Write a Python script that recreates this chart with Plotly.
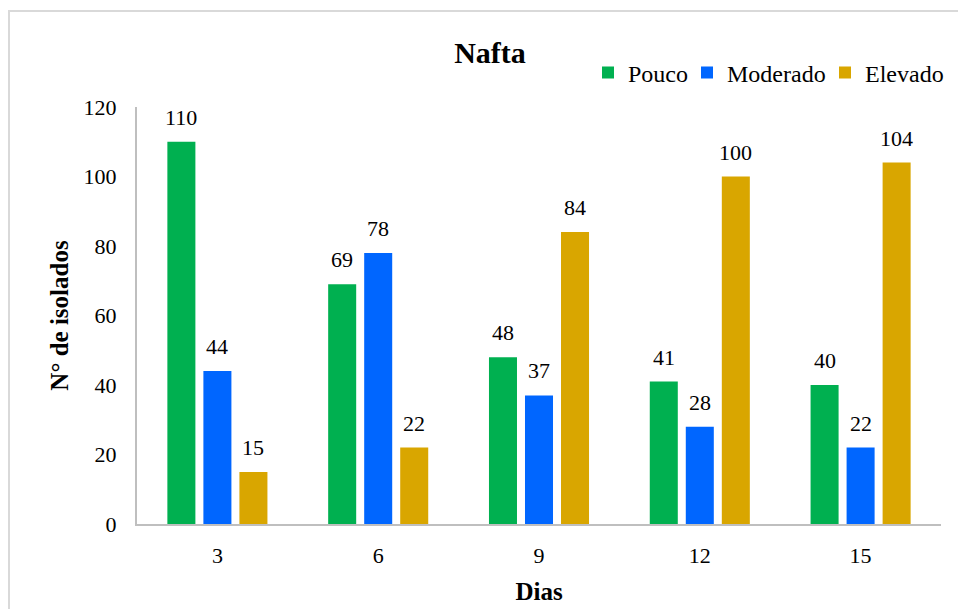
import plotly.graph_objects as go

# Days of exposure and isolate counts per degradation level
dias = ["3", "6", "9", "12", "15"]
pouco = [110, 69, 48, 41, 40]
moderado = [44, 78, 37, 28, 22]
elevado = [15, 22, 84, 100, 104]

series = [
    ("Pouco", pouco, "#00B050", 54),
    ("Moderado", moderado, "#0066FF", 93),
    ("Elevado", elevado, "#D9A600", 80),
]

FONT = "Liberation Serif"

fig = go.Figure()
for name, vals, color, lw in series:
    fig.add_trace(go.Bar(
        x=dias, y=vals, name=name,
        marker=dict(color=color, line=dict(width=0)),
        legendwidth=lw,
    ))

# Value labels above each bar, offset to each bar within its group
slot_px = 36
for i, (name, vals, color, lw) in enumerate(series):
    for j, v in enumerate(vals):
        fig.add_annotation(
            x=j, y=v, xref="x", yref="y",
            text=str(v), showarrow=False,
            xshift=(i - 1) * slot_px, yshift=10,
            yanchor="bottom",
            font=dict(family=FONT, size=22, color="#000000"),
        )

W, H = 958, 609
L, R, T, B = 137, 17, 107, 85
pw, ph = W - L - R, H - T - B

def px_x(p):
    return (p - L) / pw

def px_y(p):
    return (H - B - p) / ph

fig.update_layout(
    width=W, height=H,
    margin=dict(l=L, r=R, t=T, b=B, autoexpand=False),
    paper_bgcolor="white", plot_bgcolor="white",
    barmode="group", bargap=0.328, bargroupgap=0.222,
    font=dict(family=FONT, size=22, color="#000000"),
    title=dict(
        text="<b>Nafta</b>",
        font=dict(family=FONT, size=30, color="#000000"),
        x=px_x(490), xref="paper", xanchor="center",
        y=1 - 52 / H, yref="container", yanchor="middle",
    ),
    legend=dict(
        orientation="h",
        x=px_x(588), xanchor="left",
        y=px_y(73), yanchor="middle",
        font=dict(family=FONT, size=24, color="#000000"),
        itemwidth=30,
        bgcolor="rgba(0,0,0,0)",
    ),
    xaxis=dict(
        type="category", range=[-0.5, len(dias) - 0.5],
        showline=True, linecolor="#BFBFBF", linewidth=2,
        ticks="", showgrid=False, zeroline=False,
        tickfont=dict(family=FONT, size=22, color="#000000"),
        ticklabelstandoff=11, automargin=False,
        title=dict(text="<b>Dias</b>", font=dict(family=FONT, size=25), standoff=15),
    ),
    yaxis=dict(
        range=[0, 120], dtick=20,
        showline=True, linecolor="#BFBFBF", linewidth=2,
        ticks="", showgrid=False, zeroline=False,
        tickfont=dict(family=FONT, size=22, color="#000000"),
        ticklabelstandoff=14, automargin=False,
        title=dict(text="<b>N° de isolados</b>", font=dict(family=FONT, size=25), standoff=8),
    ),
    shapes=[dict(
        type="rect", xref="paper", yref="paper",
        x0=px_x(9), x1=px_x(1000), y0=px_y(700), y1=px_y(11),
        line=dict(color="#D9D9D9", width=2), fillcolor="rgba(0,0,0,0)",
        layer="below",
    )],
)

fig.write_html("out.html")
